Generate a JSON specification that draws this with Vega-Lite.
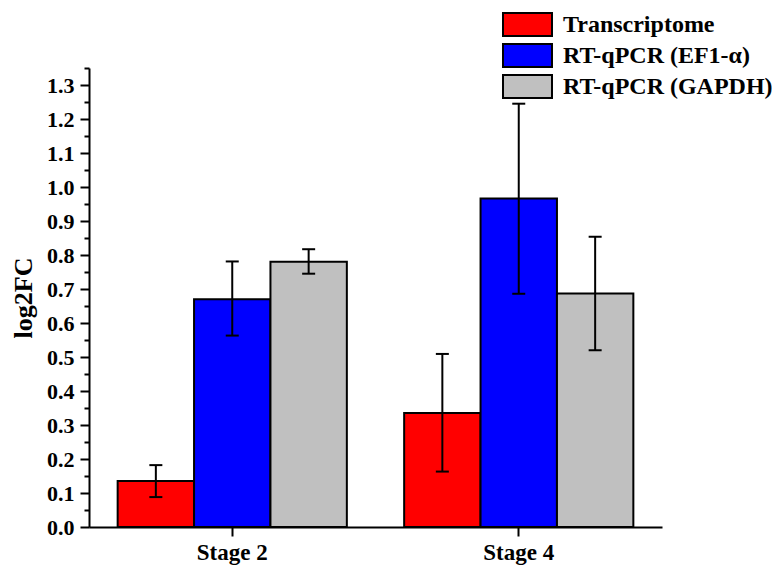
{
  "$schema": "https://vega.github.io/schema/vega-lite/v6.json",
  "width": 573,
  "height": 459,
  "autosize": {"type": "none"},
  "padding": {"left": 89, "top": 68, "right": 110, "bottom": 39},
  "config": {
    "view": {"stroke": null},
    "font": "Liberation Serif",
    "axisY": {
      "labelFont": "Liberation Serif", "labelFontSize": 22, "labelFontWeight": "bold", "labelColor": "black",
      "labelPadding": 6, "labelOverlap": false, "grid": false, "ticks": true, "tickSize": 9, "tickWidth": 2,
      "tickColor": "black", "domainColor": "black", "domainWidth": 2,
      "titleFont": "Liberation Serif", "titleFontSize": 26, "titleFontWeight": "bold", "titleColor": "black", "titlePadding": 10
    }
  },
  "data": {
    "values": [
      {"stage": "Stage 2", "series": "Transcriptome", "value": 0.135, "lo": 0.088, "hi": 0.182},
      {"stage": "Stage 2", "series": "RT-qPCR (EF1-α)", "value": 0.67, "lo": 0.563, "hi": 0.781},
      {"stage": "Stage 2", "series": "RT-qPCR (GAPDH)", "value": 0.78, "lo": 0.745, "hi": 0.817},
      {"stage": "Stage 4", "series": "Transcriptome", "value": 0.335, "lo": 0.163, "hi": 0.509},
      {"stage": "Stage 4", "series": "RT-qPCR (EF1-α)", "value": 0.966, "lo": 0.686, "hi": 1.245},
      {"stage": "Stage 4", "series": "RT-qPCR (GAPDH)", "value": 0.687, "lo": 0.52, "hi": 0.854}
    ]
  },
  "encoding": {
    "x": {
      "field": "stage", "type": "nominal",
      "scale": {"paddingInner": 0.2, "paddingOuter": 0.1},
      "axis": {
        "title": null, "labelAngle": 0, "labelFont": "Liberation Serif", "labelFontSize": 23,
        "labelFontWeight": "bold", "labelColor": "black", "labelPadding": 5,
        "tickSize": 9, "tickWidth": 2, "tickColor": "black",
        "domainColor": "black", "domainWidth": 2
      }
    },
    "xOffset": {
      "field": "series", "type": "nominal",
      "scale": {"domain": ["Transcriptome", "RT-qPCR (EF1-α)", "RT-qPCR (GAPDH)"], "paddingInner": 0, "paddingOuter": 0}
    }
  },
  "layer": [
    {
      "mark": {"type": "bar", "stroke": "black", "strokeWidth": 2},
      "encoding": {
        "y": {
          "field": "value", "type": "quantitative",
          "scale": {"domain": [0, 1.35], "nice": false, "zero": true},
          "axis": {
            "title": "log2FC",
            "values": [0, 0.05, 0.1, 0.15, 0.2, 0.25, 0.3, 0.35, 0.4, 0.45, 0.5, 0.55, 0.6, 0.65, 0.7, 0.75, 0.8, 0.85, 0.9, 0.95, 1.0, 1.05, 1.1, 1.15, 1.2, 1.25, 1.3, 1.35],
            "labelExpr": "abs(round(datum.value*20)) % 2 == 0 ? format(datum.value, '.1f') : ''",
            "tickSize": {"condition": {"test": "abs(round(datum.value*20)) % 2 == 0", "value": 9}, "value": 5}
          }
        },
        "color": {
          "field": "series", "type": "nominal",
          "scale": {"domain": ["Transcriptome", "RT-qPCR (EF1-α)", "RT-qPCR (GAPDH)"], "range": ["#FF0000", "#0000FF", "#C0C0C0"]},
          "legend": {
            "orient": "none", "legendX": 426, "legendY": -56, "title": null,
            "symbolType": "M-2.13,-1H2.13V1H-2.13Z", "symbolSize": 529,
            "symbolStrokeColor": "black", "symbolStrokeWidth": 2, "symbolOpacity": 1,
            "labelFont": "Liberation Serif", "labelFontSize": 24, "labelFontWeight": "bold", "labelColor": "black",
            "labelOffset": 23, "rowPadding": 0, "labelLimit": 300
          }
        }
      }
    },
    {
      "mark": {"type": "rule", "strokeWidth": 2, "color": "black"},
      "encoding": {
        "y": {
          "field": "lo", "type": "quantitative",
          "axis": {
            "title": "log2FC",
            "values": [0, 0.05, 0.1, 0.15, 0.2, 0.25, 0.3, 0.35, 0.4, 0.45, 0.5, 0.55, 0.6, 0.65, 0.7, 0.75, 0.8, 0.85, 0.9, 0.95, 1.0, 1.05, 1.1, 1.15, 1.2, 1.25, 1.3, 1.35],
            "labelExpr": "abs(round(datum.value*20)) % 2 == 0 ? format(datum.value, '.1f') : ''",
            "tickSize": {"condition": {"test": "abs(round(datum.value*20)) % 2 == 0", "value": 9}, "value": 5}
          }
        },
        "y2": {"field": "hi"}
      }
    },
    {
      "mark": {"type": "tick", "thickness": 2, "size": 13, "color": "black", "opacity": 1},
      "encoding": {
        "y": {
          "field": "lo", "type": "quantitative",
          "axis": {
            "title": "log2FC",
            "values": [0, 0.05, 0.1, 0.15, 0.2, 0.25, 0.3, 0.35, 0.4, 0.45, 0.5, 0.55, 0.6, 0.65, 0.7, 0.75, 0.8, 0.85, 0.9, 0.95, 1.0, 1.05, 1.1, 1.15, 1.2, 1.25, 1.3, 1.35],
            "labelExpr": "abs(round(datum.value*20)) % 2 == 0 ? format(datum.value, '.1f') : ''",
            "tickSize": {"condition": {"test": "abs(round(datum.value*20)) % 2 == 0", "value": 9}, "value": 5}
          }
        }
      }
    },
    {
      "mark": {"type": "tick", "thickness": 2, "size": 13, "color": "black", "opacity": 1},
      "encoding": {
        "y": {
          "field": "hi", "type": "quantitative",
          "axis": {
            "title": "log2FC",
            "values": [0, 0.05, 0.1, 0.15, 0.2, 0.25, 0.3, 0.35, 0.4, 0.45, 0.5, 0.55, 0.6, 0.65, 0.7, 0.75, 0.8, 0.85, 0.9, 0.95, 1.0, 1.05, 1.1, 1.15, 1.2, 1.25, 1.3, 1.35],
            "labelExpr": "abs(round(datum.value*20)) % 2 == 0 ? format(datum.value, '.1f') : ''",
            "tickSize": {"condition": {"test": "abs(round(datum.value*20)) % 2 == 0", "value": 9}, "value": 5}
          }
        }
      }
    }
  ]
}
